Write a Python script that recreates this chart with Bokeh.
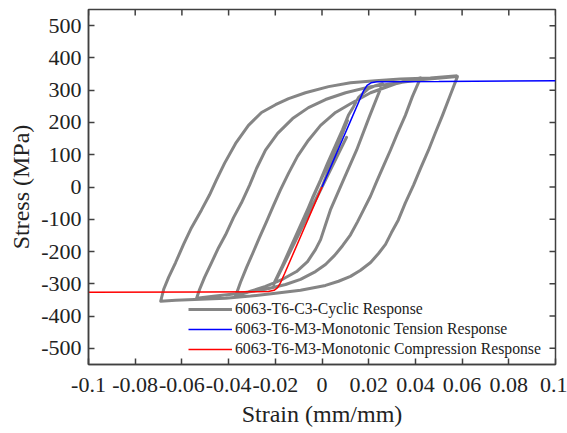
import math
from bokeh.plotting import figure
from bokeh.models import Range1d, FixedTicker, Legend, LegendItem
from bokeh.embed import file_html
from bokeh.resources import INLINE

# ---------------- data ----------------
x_ticks = [-0.1, -0.08, -0.06, -0.04, -0.02, 0, 0.02, 0.04, 0.06, 0.08, 0.1]
x_tick_labels = ["-0.1", "-0.08", "-0.06", "-0.04", "-0.02", "0", "0.02", "0.04", "0.06", "0.08", "0.1"]
y_ticks = [-500, -400, -300, -200, -100, 0, 100, 200, 300, 400, 500]
y_tick_labels = ["-500", "-400", "-300", "-200", "-100", "0", "100", "200", "300", "400", "500"]
x_lo, x_hi = -0.1, 0.1
y_lo, y_hi = -550, 550

# cyclic response, path in loading order
start_strain = [0.0, 0.0109, -0.0203, 0.0105]
start_stress = [0, 206, -298, 154]

a1_strain = [-0.0208, -0.0173, -0.0135, -0.0105, -0.0071, -0.0041, -0.0006, 0.0024, 0.0058,
             0.0088, 0.0113, 0.0135, 0.0156, 0.0178, 0.0199, 0.0229, 0.0259]
a1_stress = [-302, -249, -194, -142, -86, -34, 22, 74, 129, 178, 222, 249, 277, 292, 305, 314, 320]

d1_strain = [0.0259, 0.0203, 0.0148, 0.0092, 0.0036, 0.0015, -0.0006, -0.0028, -0.0062, -0.0109,
             -0.0169, -0.0242, -0.0306, -0.0370]
d1_stress = [320, 218, 114, 22, -71, -117, -163, -194, -231, -262, -286, -308, -323, -338]

a2_strain = [-0.0370, -0.0349, -0.0323, -0.0297, -0.0268, -0.0238, -0.0208, -0.0178, -0.0143,
             -0.0105, -0.0058, -0.0006, 0.0058, 0.0122, 0.0208, 0.0315, 0.0422]
a2_stress = [-338, -295, -249, -206, -157, -108, -58, -9, 43, 95, 145, 191, 231, 258, 292, 320, 338]

d2_strain = [0.0422, 0.0387, 0.0357, 0.0323, 0.0293, 0.0263, 0.0233, 0.0208, 0.0178, 0.0152,
             0.0122, 0.0088, 0.0054, 0.0015, -0.0028, -0.0092, -0.0156, -0.0242, -0.0349,
             -0.0456, -0.0537]
d2_stress = [338, 280, 222, 166, 114, 65, 15, -28, -71, -108, -148, -182, -212, -240, -262, -286,
             -302, -317, -329, -338, -345]

a3_strain = [-0.0537, -0.0524, -0.0503, -0.0473, -0.0443, -0.0413, -0.0379, -0.0345, -0.0310,
             -0.0280, -0.0242, -0.0190, -0.0126, -0.0058, 0.0015, 0.0101, 0.0208, 0.0422, 0.0580]
a3_stress = [-345, -317, -280, -234, -188, -148, -95, -49, 6, 58, 114, 166, 212, 246, 271, 292,
             311, 332, 342]

d3_strain = [0.0580, 0.0550, 0.0516, 0.0486, 0.0456, 0.0422, 0.0392, 0.0357, 0.0327, 0.0297,
             0.0272, 0.0242, 0.0208, 0.0165, 0.0122, 0.0071, 0.0015, -0.0092, -0.0199, -0.0306,
             -0.0413, -0.0520, -0.0627, -0.0691]
d3_stress = [342, 286, 222, 169, 114, 58, 6, -49, -102, -142, -178, -206, -234, -258, -277, -292,
             -305, -320, -329, -338, -345, -348, -351, -354]

a4_strain = [-0.0691, -0.0678, -0.0657, -0.0627, -0.0593, -0.0559, -0.0516, -0.0482, -0.0452,
             -0.0417, -0.0370, -0.0315, -0.0259, -0.0199, -0.0143, -0.0071, 0.0028, 0.0122,
             0.0229, 0.0336, 0.0464, 0.0580]
a4_stress = [-354, -317, -280, -234, -178, -126, -71, -25, 22, 74, 135, 191, 231, 255, 274, 292,
             311, 323, 329, 335, 338, 345]

tension_strain = [0.0, 0.004, 0.008, 0.012, 0.016, 0.0178, 0.0193, 0.0210, 0.0235, 0.05, 0.1]
tension_stress = [0, 67, 134, 201, 268, 298, 315, 323, 326, 327, 329]

compression_strain = [0.0, -0.004, -0.008, -0.012, -0.016, -0.0178, -0.0190, -0.0205, -0.0230, -0.05, -0.1]
compression_stress = [0, -67, -134, -201, -268, -297, -312, -320, -324, -325, -326]

labels = ["6063-T6-C3-Cyclic Response",
          "6063-T6-M3-Monotonic Tension Response",
          "6063-T6-M3-Monotonic Compression Response"]

cyc_x = (start_strain + a1_strain + d1_strain + a2_strain + d2_strain + a3_strain
         + d3_strain + a4_strain)
cyc_y = (start_stress + a1_stress + d1_stress + a2_stress + d2_stress + a3_stress
         + d3_stress + a4_stress)

# ---------------- figure ----------------
SERIF = "Liberation Serif"
AX = "#404040"
TXT = "#222222"

p = figure(width=567, height=433, output_backend="svg", toolbar_location=None,
           x_range=Range1d(x_lo, x_hi), y_range=Range1d(y_lo, y_hi),
           min_border_left=88, min_border_right=12, min_border_top=9, min_border_bottom=69)
p.xgrid.visible = False
p.ygrid.visible = False
p.outline_line_color = AX
p.outline_line_width = 1.5
p.background_fill_color = "white"
p.border_fill_color = "white"

r_cyc = p.line(cyc_x, cyc_y, line_color="#858585", line_width=3, line_join="round")
r_ten = p.line(tension_strain, tension_stress, line_color="#0000ff", line_width=1.5)
r_com = p.line(compression_strain, compression_stress, line_color="#ff0000", line_width=1.5)

# mirrored inward ticks on top and right edges
p.ray(x=x_ticks, y=[y_hi] * len(x_ticks), length=6, length_units="screen",
      angle=-math.pi / 2, line_color=AX, line_width=1.5)
p.ray(x=[x_hi] * len(y_ticks), y=y_ticks, length=6, length_units="screen",
      angle=math.pi, line_color=AX, line_width=1.5)


def style(ax, ticks, labs):
    ax.ticker = FixedTicker(ticks=ticks)
    ax.major_label_overrides = {t: l for t, l in zip(ticks, labs)}
    ax.minor_tick_line_color = None
    ax.major_tick_in = 6
    ax.major_tick_out = 0
    ax.major_tick_line_color = AX
    ax.major_tick_line_width = 1.5
    ax.axis_line_color = AX
    ax.axis_line_width = 1.5
    ax.major_label_text_font = SERIF
    ax.major_label_text_font_size = "22px"
    ax.major_label_text_color = TXT
    ax.axis_label_text_font = SERIF
    ax.axis_label_text_font_size = "24px"
    ax.axis_label_text_font_style = "normal"
    ax.axis_label_text_color = TXT


xb = p.xaxis[0]
style(xb, x_ticks, x_tick_labels)
xb.axis_label = "Strain (mm/mm)"
xb.major_label_standoff = 13
xb.axis_label_standoff = 6

yl = p.yaxis[0]
style(yl, y_ticks, y_tick_labels)
yl.axis_label = "Stress (MPa)"
yl.major_label_standoff = 7
yl.axis_label_standoff = 4

legend = Legend(items=[LegendItem(label=labels[0], renderers=[r_cyc]),
                       LegendItem(label=labels[1], renderers=[r_ten]),
                       LegendItem(label=labels[2], renderers=[r_com])],
                location=(100, 5), label_text_font=SERIF, label_text_font_size="15.7px",
                label_text_color=TXT,
                glyph_width=44, glyph_height=20, label_height=20, label_standoff=3,
                spacing=0, padding=0, margin=0, border_line_alpha=0,
                background_fill_alpha=0)
p.add_layout(legend)

open("out.html", "w").write(file_html(p, INLINE))
